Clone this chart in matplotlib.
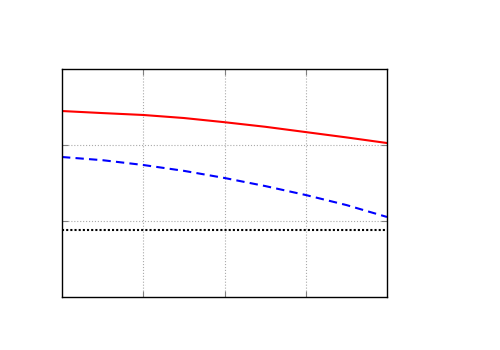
import numpy as np
import matplotlib.pyplot as plt

x = [0, 0.5, 1, 1.5, 2, 2.5, 3, 3.5, 4]
red = [2.447, 2.42, 2.395, 2.355, 2.30, 2.24, 2.17, 2.10, 2.026]
blue = [1.842, 1.80, 1.737, 1.66, 1.566, 1.46, 1.342, 1.21, 1.053]
level = 0.88

fig = plt.figure(figsize=(5, 3.5), dpi=100)
ax = fig.add_axes([62/500, 1-297/350, 325/500, 228/350])

ax.plot(x, red, color='red', lw=1.5)
ax.plot(x, blue, color='blue', lw=1.5, ls=(0, (4, 2.5)))
ax.axhline(level, color='black', lw=1.5, ls=(0, (1, 1)))

ax.set_xlim(0, 4)
ax.set_ylim(0, 3)
ax.set_xticks([1, 2, 3])
ax.set_yticks([1, 2])
ax.tick_params(direction='in', length=4, color='gray', labelleft=False, labelbottom=False,
               top=True, right=True)
ax.grid(True, color='#aaaaaa', ls=':', lw=0.8)
for s in ax.spines.values():
    s.set_linewidth(1)

fig.savefig('out.png')
